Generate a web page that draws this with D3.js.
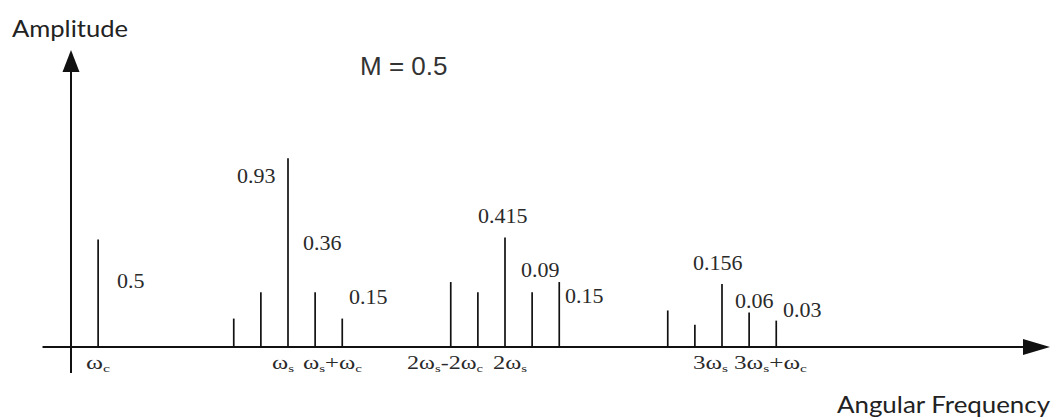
<!DOCTYPE html>
<html>
<head>
<meta charset="utf-8">
<script src="https://cdn.jsdelivr.net/npm/d3@7"></script>
<style>
  html, body { margin: 0; padding: 0; background: #fff; }
  svg { display: block; }
</style>
</head>
<body>
<svg id="chart"></svg>
<script>
const width = 1052;
const height = 417;

// spectral lines: position in units of the carrier frequency, drawn height (schematic)
const freqUnits = [1, 6, 7, 8, 9, 10, 14, 15, 16, 17, 18, 22, 23, 24, 25, 26];
const lineHeights = [0.53, 0.14, 0.27, 0.93, 0.27, 0.14, 0.32, 0.27, 0.54, 0.27, 0.32, 0.18, 0.11, 0.31, 0.17, 0.13];

// amplitude annotations (text, where they sit in freq units / amplitude units)
const ampLabels = ["0.5", "0.93", "0.36", "0.15", "0.415", "0.09", "0.15", "0.156", "0.06", "0.03"];
const ampLabelFreq = [1.70, 6.12, 8.55, 10.25, 15.0, 16.59, 18.21, 22.93, 24.48, 26.25];
const ampLabelLevel = [0.29, 0.81, 0.48, 0.21, 0.61, 0.345, 0.217, 0.38, 0.19, 0.148];

// frequency labels under the axis, "_x" means subscript x
const freqLabels = ["ω_c", "ω_s", "ω_s+ω_c", "2ω_s-2ω_c", "2ω_s", "3ω_s", "3ω_s+ω_c"];
const freqLabelAt = [0.55, 7.41, 8.55, 12.39, 15.56, 22.93, 24.44];
const freqLabelWidth = [24, 22, 59, 76, 34, 35, 73];

const svg = d3.select("#chart")
  .attr("width", width)
  .attr("height", height);

const x = d3.scaleLinear().domain([0, 24]).range([71, 722]);
const y = d3.scaleLinear().domain([0, 1]).range([347, 144]);

const ink = "#111";

// --- axes ---
const x0 = x(0), y0 = y(0);
svg.append("line")
  .attr("x1", x(-1.05)).attr("x2", 1026)
  .attr("y1", y0).attr("y2", y0)
  .attr("stroke", ink).attr("stroke-width", 2);
svg.append("path")
  .attr("d", `M1050,${y0} L1023,${y0 - 8} L1023,${y0 + 8} Z`)
  .attr("fill", ink);

svg.append("line")
  .attr("x1", x0).attr("x2", x0)
  .attr("y1", 373).attr("y2", 70)
  .attr("stroke", ink).attr("stroke-width", 2);
svg.append("path")
  .attr("d", `M${x0},50 L${x0 - 8.5},72 L${x0 + 8.5},72 Z`)
  .attr("fill", ink);

// --- spectral lines ---
svg.selectAll("line.spec")
  .data(freqUnits)
  .enter()
  .append("line")
  .attr("class", "spec")
  .attr("x1", d => x(d)).attr("x2", d => x(d))
  .attr("y1", y0)
  .attr("y2", (d, i) => y(lineHeights[i]))
  .attr("stroke", ink)
  .attr("stroke-width", 1.7);

// --- amplitude values ---
svg.selectAll("text.amp")
  .data(ampLabels)
  .enter()
  .append("text")
  .attr("class", "amp")
  .attr("x", (d, i) => x(ampLabelFreq[i]))
  .attr("y", (d, i) => y(ampLabelLevel[i]))
  .attr("font-family", "'Liberation Serif', 'Times New Roman', serif")
  .attr("font-size", 22)
  .attr("fill", "#2a2a2a")
  .text(d => d);

// --- frequency labels with subscripts ---
freqLabels.forEach((lab, i) => {
  const t = svg.append("text")
    .attr("x", x(freqLabelAt[i]))
    .attr("y", 369)
    .attr("font-family", "'Liberation Serif', 'Times New Roman', serif")
    .attr("font-size", 18)
    .attr("fill", "#2a2a2a")
    .attr("textLength", freqLabelWidth[i])
    .attr("lengthAdjust", "spacingAndGlyphs");
  const parts = lab.split(/(_.)/).filter(p => p.length);
  let sub = false;
  parts.forEach(p => {
    if (p[0] === "_") {
      t.append("tspan").attr("font-size", 11).attr("dy", 3).text(p[1]);
      sub = true;
    } else {
      const ts = t.append("tspan").text(p);
      if (sub) { ts.attr("dy", -3); sub = false; }
    }
  });
});

// --- titles ---
svg.append("text")
  .attr("x", 12).attr("y", 37)
  .attr("font-family", "Lato, 'Open Sans', sans-serif")
  .attr("font-size", 24)
  .attr("fill", "#222")
  .attr("textLength", 116)
  .attr("lengthAdjust", "spacingAndGlyphs")
  .text("Amplitude");

svg.append("text")
  .attr("x", 837).attr("y", 413)
  .attr("font-family", "Lato, 'Open Sans', sans-serif")
  .attr("font-size", 24)
  .attr("fill", "#222")
  .attr("textLength", 213)
  .attr("lengthAdjust", "spacingAndGlyphs")
  .text("Angular Frequency");

svg.append("text")
  .attr("x", 360).attr("y", 75)
  .attr("font-family", "'Liberation Sans', Arial, sans-serif")
  .attr("font-size", 26)
  .attr("fill", "#333")
  .text("M = 0.5");
</script>
</body>
</html>
